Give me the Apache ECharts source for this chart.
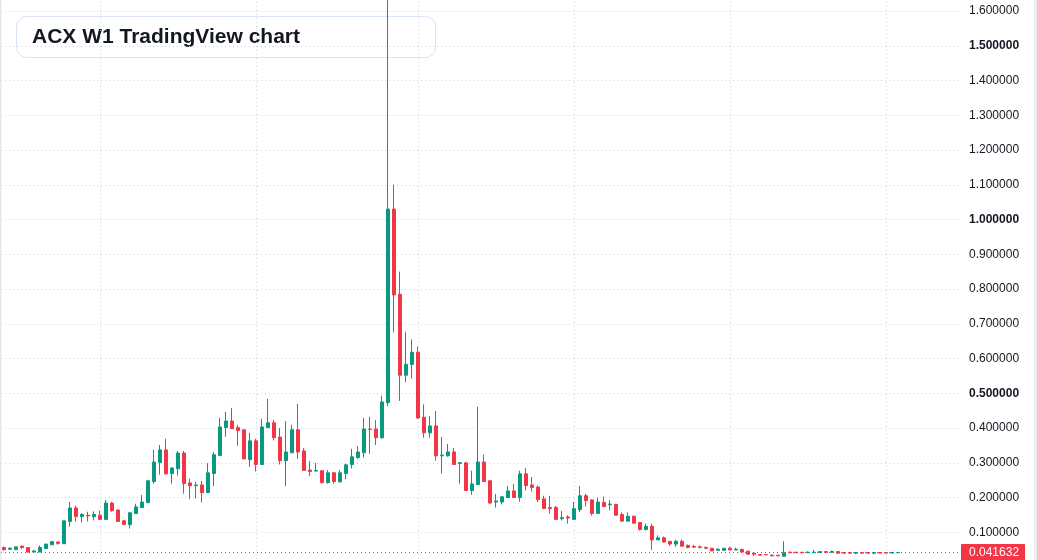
<!DOCTYPE html>
<html>
<head>
<meta charset="utf-8">
<script src="https://cdn.jsdelivr.net/npm/echarts@6/dist/echarts.min.js"></script>
<style>
html,body{margin:0;padding:0;background:#ffffff;}
#chart{width:1037px;height:560px;}
</style>
</head>
<body>
<div id="chart"></div>
<script>
// ---- Data (weekly ACX candles) ----
const openP = [
  .056,.051,.050,.060,.056,.043,.043,.053,.064,.072,
  .067,.131,.170,.145,.149,.145,.149,.137,.184,.164,
  .133,.122,.154,.171,.185,.246,.301,.337,.269,.283,
  .328,.242,.234,.236,.214,.269,.321,.401,.420,.401,
  .395,.309,.363,.295,.401,.415,.374,.306,.329,.395,
  .334,.279,.276,.277,.243,.271,.245,.269,.295,.315,
  .329,.397,.397,.372,.473,1.030,.785,.552,.583,.618,
  .431,.386,.406,.320,.320,.331,.298,.300,.220,.237,
  .302,.248,.187,.187,.200,.219,.200,.268,.236,.230,
  .196,.171,.171,.139,.144,.137,.165,.205,.193,.154,
  .186,.179,.180,.151,.132,.146,.128,.108,.117,.078,
  .084,.074,.066,.074,.062,.059,.058,.056,.054,.048,
  .048,.054,.049,.0505,.0455,.040,.036,.036,.034,.034,
  .031,.0426,.0426,.0424,.041,.041,.0416,.0445,.0426,.0445,
  .0416,.0416,.0397,.0416,.0416,.0397,.0416,.0416,.040,.041
];
const closeP = [
  .050,.054,.058,.056,.043,.046,.056,.066,.073,.068,
  .133,.170,.145,.151,.147,.151,.137,.184,.162,.131,
  .122,.156,.173,.187,.248,.302,.337,.268,.285,.328,
  .240,.234,.236,.214,.271,.323,.403,.420,.398,.393,
  .311,.363,.295,.403,.415,.372,.306,.331,.395,.331,
  .278,.275,.278,.243,.271,.246,.271,.294,.317,.331,
  .397,.396,.372,.475,1.030,.783,.552,.583,.618,.429,
  .386,.406,.320,.322,.331,.295,.300,.220,.239,.302,
  .246,.184,.190,.202,.219,.200,.268,.234,.229,.194,
  .168,.168,.137,.142,.141,.168,.205,.191,.154,.187,
  .174,.181,.149,.132,.146,.126,.108,.117,.078,.084,
  .072,.066,.074,.060,.056,.057,.056,.054,.046,.051,
  .054,.049,.051,.043,.037,.037,.034,.035,.032,.032,
  .041,.0407,.041,.041,.0426,.0426,.0445,.0416,.0445,.0397,
  .0397,.0397,.0416,.0397,.0397,.0416,.040,.040,.0416,.041632
];
const lowP = [
  .047,.050,.050,.052,.042,.043,.043,.053,.064,.064,
  .067,.116,.131,.128,.131,.134,.137,.137,.159,.131,
  .122,.111,.154,.171,.185,.240,.266,.266,.240,.263,
  .211,.195,.197,.185,.214,.233,.321,.375,.398,.349,
  .311,.288,.275,.295,.401,.364,.295,.233,.327,.311,
  .278,.262,.275,.240,.240,.240,.243,.253,.283,.311,
  .315,.326,.351,.369,.463,.675,.478,.532,.542,.427,
  .372,.372,.306,.269,.317,.295,.240,.219,.208,.237,
  .244,.183,.171,.180,.200,.200,.188,.220,.217,.187,
  .168,.154,.135,.134,.125,.136,.158,.174,.148,.154,
  .172,.163,.149,.132,.132,.126,.105,.105,.049,.078,
  .070,.061,.058,.060,.054,.055,.054,.051,.046,.048,
  .046,.049,.049,.043,.035,.032,.034,.035,.031,.032,
  .031,.0407,.041,.041,.041,.041,.041,.041,.0407,.0397,
  .0397,.0397,.0368,.0397,.0397,.0368,.040,.040,.040,.0405
];
const highP = [
  .059,.057,.058,.062,.056,.049,.062,.066,.075,.072,
  .133,.187,.176,.155,.159,.160,.162,.193,.187,.166,
  .136,.159,.182,.207,.251,.337,.351,.369,.287,.334,
  .334,.254,.245,.248,.299,.331,.429,.446,.458,.409,
  .395,.386,.369,.426,.484,.423,.400,.420,.409,.469,
  .342,.305,.300,.279,.279,.274,.279,.297,.340,.348,
  .429,.432,.423,.492,1.750,1.100,.850,.677,.655,.634,
  .468,.434,.449,.374,.354,.343,.302,.300,.277,.461,
  .323,.251,.210,.205,.233,.239,.277,.285,.259,.235,
  .205,.205,.176,.161,.149,.187,.233,.211,.195,.199,
  .203,.192,.182,.157,.157,.148,.128,.125,.125,.091,
  .088,.074,.078,.079,.065,.064,.062,.059,.054,.054,
  .054,.058,.056,.053,.047,.040,.036,.036,.036,.034,
  .074,.0445,.043,.043,.045,.049,.045,.045,.0474,.0445,
  .042,.042,.042,.042,.042,.042,.042,.042,.042,.042
];
const emptyWeeksRight = 10;          // blank space to the right of the last candle
const gridWeekIdx = [16, 42, 69, 95, 121, 147]; // vertical (half-year) grid lines
const lastPrice = 0.041632;
const chartTitle = 'ACX W1 TradingView chart';

// ---- Build ----
const totalWeeks = openP.length + emptyWeeksRight;
const categories = [];
for (let i = 0; i < totalWeeks; i++) categories.push('W' + (i + 1));
const ohlc = openP.map((o, i) => [o, closeP[i], lowP[i], highP[i]]);

const UP = '#089981', DOWN = '#f23645';
const FONT = '"Liberation Sans", Arial, sans-serif';
const chart = echarts.init(document.getElementById('chart'), null, {renderer: 'canvas'});

chart.setOption({
  animation: false,
  backgroundColor: '#ffffff',
  grid: {left: 1, right: 76, top: -23.75, bottom: -7, containLabel: false, outerBoundsMode: 'none'},
  xAxis: {
    type: 'category',
    data: categories,
    boundaryGap: true,
    axisLine: {show: false},
    axisTick: {show: false},
    axisLabel: {show: false},
    splitLine: {show: false}
  },
  yAxis: {
    type: 'value',
    position: 'right',
    min: 0,
    max: 1.7,
    interval: 0.1,
    axisLine: {show: false},
    axisTick: {show: false},
    splitLine: {show: true, lineStyle: {color: '#cdd0d6', type: [1, 3], width: 1}},
    axisLabel: {
      margin: 8,
      color: '#131722',
      fontSize: 12,
      fontFamily: FONT,
      formatter: function (v) {
        const s = v.toFixed(6);
        const major = Math.abs(v * 2 - Math.round(v * 2)) < 1e-6 && v > 0;
        return major ? '{b|' + s + '}' : s;
      },
      rich: {b: {fontWeight: 'bold', fontSize: 12, color: '#131722', fontFamily: FONT}}
    }
  },
  series: [
    {
      type: 'line',
      data: [],
      silent: true,
      z: 1,
      markLine: {
        z: 1,
        silent: true,
        symbol: ['none', 'none'],
        animation: false,
        label: {show: false},
        lineStyle: {color: '#cdd0d6', type: [1, 3], width: 1},
        data: gridWeekIdx.map(i => ({xAxis: categories[i]}))
      }
    },
    {
      type: 'candlestick',
      data: ohlc,
      barWidth: 4,
      clip: true,
      z: 3,
      itemStyle: {
        color: UP, color0: DOWN,
        borderColor: UP, borderColor0: DOWN,
        borderWidth: 1
      },
      markLine: {
        silent: true,
        symbol: ['none', 'none'],
        animation: false,
        precision: 6,
        lineStyle: {color: DOWN, type: [1, 3], width: 1},
        label: {
          show: true,
          position: 'end',
          distance: 0,
          formatter: () => lastPrice.toFixed(6),
          color: '#ffffff',
          backgroundColor: DOWN,
          fontSize: 12,
          lineHeight: 13,
          fontFamily: FONT,
          padding: [2, 6, 2, 8],
          borderRadius: 1
        },
        data: [{yAxis: lastPrice}]
      }
    }
  ],
  graphic: [
    {type: 'rect', z: 50, shape: {x: 0, y: 0, width: 1.5, height: 560}, style: {fill: '#e6e7ea'}},
    {type: 'rect', z: 50, shape: {x: 1034, y: 0, width: 3, height: 560}, style: {fill: '#ececee'}},
    {
      type: 'group', z: 100,
      children: [
        {type: 'rect', shape: {x: 16.5, y: 16.5, width: 419, height: 41, r: 10},
         style: {fill: 'rgba(255,255,255,0.9)', stroke: '#d8e3f5', lineWidth: 1}},
        {type: 'text', x: 32, y: 37,
         style: {text: chartTitle, fill: '#131722', font: 'bold 21px ' + FONT,
                 textVerticalAlign: 'middle', verticalAlign: 'middle'}}
      ]
    }
  ]
});
</script>
</body>
</html>
